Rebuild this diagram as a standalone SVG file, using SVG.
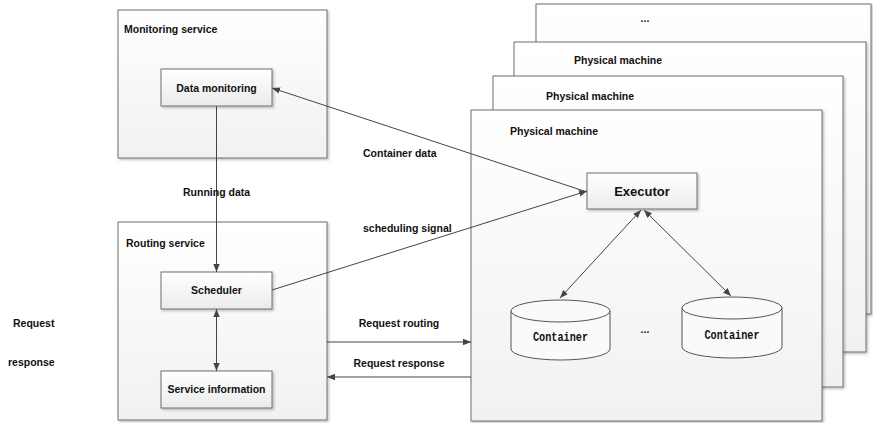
<svg xmlns="http://www.w3.org/2000/svg" width="873" height="423" viewBox="0 0 873 423">
  <style>
    .lbl { font-family: "Liberation Sans", Arial, sans-serif; font-weight: bold; font-size: 10.5px; fill: #111; }
    .mid { text-anchor: middle; }
    .mono { font-family: "Liberation Mono", "Courier New", monospace; font-weight: bold; font-size: 12.5px; fill: #111; text-anchor: middle; }
    .box { fill: url(#boxGrad); stroke: #6e6e6e; stroke-width: 1; filter: url(#shadow); }
    .big { fill: url(#bigGrad); stroke: #6e6e6e; stroke-width: 1; filter: url(#shadow); }
    .cyl { fill: #fafafa; stroke: #555; stroke-width: 1; }
    .conn { stroke: #444; stroke-width: 1; fill: none; }
  </style>
  <defs>
    <linearGradient id="boxGrad" x1="0" y1="0" x2="0" y2="1">
      <stop offset="0" stop-color="#ffffff"/>
      <stop offset="1" stop-color="#ebebeb"/>
    </linearGradient>
    <linearGradient id="bigGrad" x1="0" y1="0" x2="0" y2="1">
      <stop offset="0" stop-color="#ffffff"/>
      <stop offset="1" stop-color="#f1f1f1"/>
    </linearGradient>
    <filter id="shadow" x="-5%" y="-5%" width="115%" height="115%">
      <feDropShadow dx="1.5" dy="1.5" stdDeviation="0.8" flood-color="#000" flood-opacity="0.25"/>
    </filter>
    <marker id="arrowEnd" viewBox="0 0 10 10" refX="10" refY="5" markerWidth="8" markerHeight="8" markerUnits="userSpaceOnUse" orient="auto">
      <path d="M0,1 L10,5 L0,9 Z" fill="#444"/>
    </marker>
    <marker id="arrowStart" viewBox="0 0 10 10" refX="0" refY="5" markerWidth="8" markerHeight="8" markerUnits="userSpaceOnUse" orient="auto">
      <path d="M10,1 L0,5 L10,9 Z" fill="#444"/>
    </marker>
  </defs>

  <!-- monitoring service -->
  <g id="monitoring-service">
    <rect class="big" x="118" y="10" width="209" height="148"/>
    <text class="lbl" x="124" y="33">Monitoring service</text>
  </g>
  <g id="data-monitoring">
    <rect class="box" x="161" y="69" width="111" height="37"/>
    <text class="lbl mid" x="216.5" y="92">Data monitoring</text>
  </g>

  <!-- routing service -->
  <g id="routing-service">
    <rect class="big" x="118" y="222" width="209" height="198"/>
    <text class="lbl" x="126" y="247">Routing service</text>
  </g>
  <g id="scheduler">
    <rect class="box" x="161" y="272" width="111" height="37"/>
    <text class="lbl mid" x="216.5" y="294">Scheduler</text>
  </g>
  <g id="service-information">
    <rect class="box" x="161" y="371" width="111" height="37"/>
    <text class="lbl mid" x="216.5" y="393">Service information</text>
  </g>

  <!-- physical machine stack -->
  <g id="machine-more">
    <rect class="big" x="536" y="4" width="335" height="310"/>
    <text class="lbl mid" x="645" y="22">...</text>
  </g>
  <g id="machine-3">
    <rect class="big" x="514" y="42" width="352" height="310"/>
    <text class="lbl" x="574" y="64">Physical machine</text>
  </g>
  <g id="machine-2">
    <rect class="big" x="493" y="76" width="350" height="311"/>
    <text class="lbl" x="546" y="100">Physical machine</text>
  </g>
  <g id="machine-1">
    <rect class="big" x="471" y="110" width="351" height="311"/>
    <text class="lbl" x="510" y="135">Physical machine</text>
    <text class="lbl mid" x="645" y="333">...</text>
  </g>
  <g id="executor">
    <rect class="box" x="587" y="173" width="110" height="36"/>
    <text class="lbl mid" x="642" y="196" style="font-size:13px">Executor</text>
  </g>
  <g id="container-1">
    <path class="cyl" d="M511,311 L511,349 A49.5,11 0 0 0 610,349 L610,311"/>
    <ellipse class="cyl" cx="560.5" cy="311" rx="49.5" ry="11"/>
    <text class="mono" x="560.5" y="341" textLength="55" lengthAdjust="spacingAndGlyphs">Container</text>
  </g>
  <g id="container-2">
    <path class="cyl" d="M682,308 L682,347 A50,11 0 0 0 782,347 L782,308"/>
    <ellipse class="cyl" cx="732" cy="308" rx="50" ry="11"/>
    <text class="mono" x="732" y="339" textLength="55" lengthAdjust="spacingAndGlyphs">Container</text>
  </g>

  <!-- free-standing labels -->
  <g id="side-labels">
    <text class="lbl" x="13" y="327">Request</text>
    <text class="lbl" x="8" y="366">response</text>
  </g>

  <!-- connectors -->
  <g id="connectors">
    <line class="conn" x1="216.5" y1="106" x2="216.5" y2="272" marker-end="url(#arrowEnd)"/>
    <line class="conn" x1="216.5" y1="309" x2="216.5" y2="371" marker-start="url(#arrowStart)" marker-end="url(#arrowEnd)"/>
    <line class="conn" x1="587" y1="192" x2="272" y2="88" marker-end="url(#arrowEnd)"/>
    <line class="conn" x1="272" y1="290" x2="587" y2="191" marker-end="url(#arrowEnd)"/>
    <line class="conn" x1="327" y1="342" x2="471" y2="342" marker-end="url(#arrowEnd)"/>
    <line class="conn" x1="471" y1="377" x2="327" y2="377" marker-end="url(#arrowEnd)"/>
    <line class="conn" x1="641" y1="210" x2="560" y2="298" marker-start="url(#arrowStart)" marker-end="url(#arrowEnd)"/>
    <line class="conn" x1="644" y1="210" x2="731" y2="296" marker-start="url(#arrowStart)" marker-end="url(#arrowEnd)"/>
    <text class="lbl" x="183" y="196">Running data</text>
    <text class="lbl" x="363" y="157">Container data</text>
    <text class="lbl" x="363" y="232">scheduling signal</text>
    <text class="lbl mid" x="399" y="327">Request routing</text>
    <text class="lbl mid" x="399" y="367">Request response</text>
  </g>
</svg>
